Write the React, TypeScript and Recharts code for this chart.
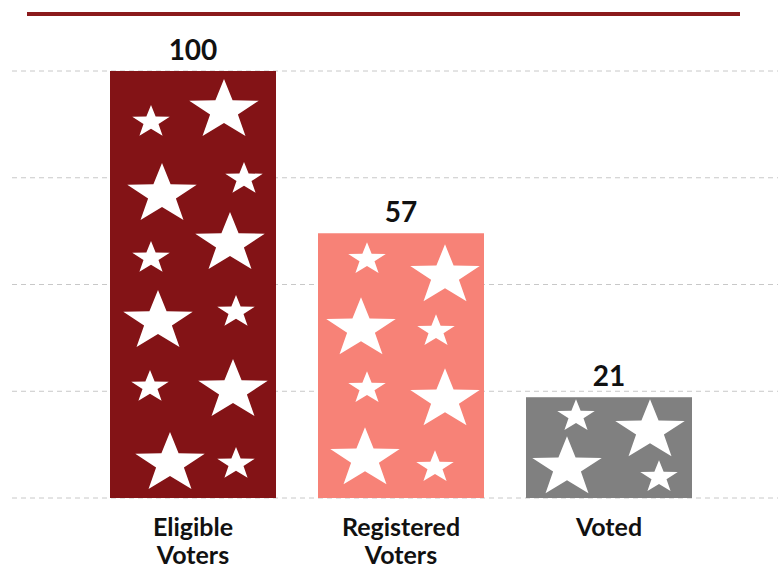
import React from "react";
import {
  BarChart,
  Bar,
  XAxis,
  YAxis,
  CartesianGrid,
  LabelList,
} from "recharts";

const categories = ["Eligible Voters", "Registered Voters", "Voted"];
const countLabels = [100, 57, 21];
// drawn bar lengths as measured in the picture (0-100 scale)
const barLengths = [100, 62, 23.6];
const yTicks = [0, 25, 50, 75, 100];

const barColors = ["#831316", "#F78277", "#808080"];

// star decoration per bar: [centre x, top y (relative to bar corner), big?]
const starLayouts: [number, number, boolean][][] = [
  [
    [41, 34, false], [114, 8, true],
    [52, 92, true], [134, 91, false],
    [41, 170, false], [120, 141, true],
    [48, 219, true], [126, 224, false],
    [40, 299, false], [123, 288, true],
    [60, 361, true], [126, 376, false],
  ],
  [
    [49, 9, false], [127, 11, true],
    [43, 64, true], [118, 81, false],
    [49, 138, false], [127, 135, true],
    [47, 194, true], [117, 217, false],
  ],
  [
    [50, 2, false], [124, 2, true],
    [41, 39, true], [133, 63, false],
  ],
];

const data = categories.map((c, i) => ({
  name: c,
  length: barLengths[i],
  count: countLabels[i],
}));

const starPath = (cx: number, cy: number, R: number, sx: number) => {
  const r = R * 0.4;
  let d = "";
  for (let i = 0; i < 10; i++) {
    const rad = i % 2 === 0 ? R : r;
    const a = -Math.PI / 2 + (i * Math.PI) / 5;
    const px = cx + Math.cos(a) * rad * sx;
    const py = cy + Math.sin(a) * rad;
    d += (i === 0 ? "M" : "L") + px.toFixed(2) + "," + py.toFixed(2);
  }
  return d + "Z";
};

const StarBar = (props: any) => {
  const { x, y, width, height, index } = props;
  const stars = starLayouts[index] || [];
  return (
    <g>
      <rect x={x} y={y} width={width} height={height} fill={barColors[index]} />
      {stars.map(([dx, top, big], i) => {
        const R = big ? 31.5 : 17;
        return (
          <path key={i} d={starPath(x + dx, y + top + R, R, 1.16)} fill="#ffffff" />
        );
      })}
    </g>
  );
};

const CategoryTick = (props: any) => {
  const { x, y, payload } = props;
  const lines = String(payload.value).split(" ");
  return (
    <text
      textAnchor="middle"
      fontFamily="Lato"
      fontWeight={700}
      fontSize={25}
      fill="#111111"
    >
      {lines.map((l, i) => (
        <tspan key={i} x={x} y={y + 38 + i * 28}>
          {l}
        </tspan>
      ))}
    </text>
  );
};

const CountLabel = (props: any) => {
  const { x, y, width, value } = props;
  return (
    <text
      x={x + width / 2}
      y={y - 11}
      textAnchor="middle"
      fontFamily="Lato"
      fontWeight={700}
      fontSize={28}
      fill="#111111"
    >
      {value}
    </text>
  );
};

export default function App() {
  return (
    <div
      style={{
        position: "absolute",
        left: 0,
        top: 0,
        width: 778,
        height: 569,
        background: "#ffffff",
      }}
    >
      <div
        style={{
          position: "absolute",
          left: 27,
          top: 12,
          width: 713,
          height: 4,
          background: "#8B1A1C",
        }}
      />
      <BarChart
        width={778}
        height={569}
        data={data}
        margin={{ top: 71, right: 0, bottom: 0, left: 12 }}
      >
        <CartesianGrid
          vertical={false}
          stroke="#c8c8c8"
          strokeDasharray="5 4"
        />
        <XAxis
          dataKey="name"
          axisLine={false}
          tickLine={false}
          tickSize={0}
          tickMargin={0}
          height={71}
          interval={0}
          padding={{ left: 77, right: 65 }}
          tick={<CategoryTick />}
        />
        <YAxis hide domain={[0, 100]} ticks={yTicks} />
        <Bar
          dataKey="length"
          barSize={166}
          shape={<StarBar />}
          isAnimationActive={false}
        >
          <LabelList dataKey="count" content={<CountLabel />} />
        </Bar>
      </BarChart>
    </div>
  );
}
